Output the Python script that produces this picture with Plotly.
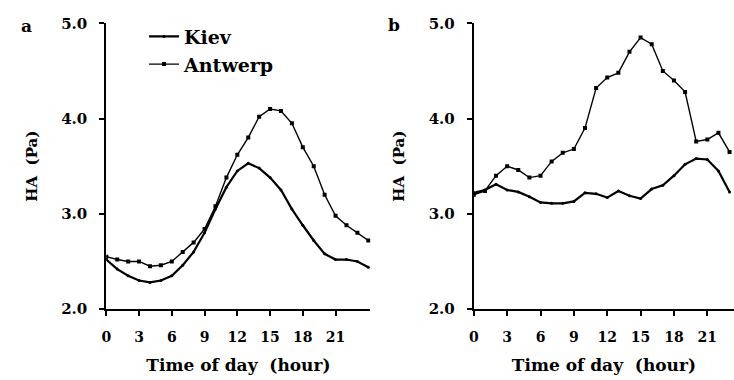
import plotly.graph_objects as go

# Hourly humidity amplitude (Pa), hours 0..24
hours_a = list(range(25))
kiev_a = [2.52, 2.42, 2.35, 2.30, 2.28, 2.30, 2.35, 2.46, 2.60, 2.80, 3.05, 3.28, 3.45,
          3.53, 3.48, 3.38, 3.25, 3.05, 2.88, 2.72, 2.58, 2.52, 2.52, 2.50, 2.44]
antwerp_a = [2.55, 2.52, 2.50, 2.50, 2.45, 2.46, 2.50, 2.60, 2.70, 2.84, 3.08, 3.38, 3.62,
             3.80, 4.02, 4.10, 4.08, 3.95, 3.70, 3.50, 3.20, 2.98, 2.88, 2.80, 2.72]

hours_b = list(range(24))
kiev_b = [3.22, 3.25, 3.31, 3.25, 3.23, 3.18, 3.12, 3.11, 3.11, 3.13, 3.22, 3.21, 3.17,
          3.24, 3.19, 3.16, 3.26, 3.30, 3.40, 3.52, 3.58, 3.57, 3.45, 3.23]
antwerp_b = [3.20, 3.24, 3.40, 3.50, 3.46, 3.38, 3.40, 3.55, 3.64, 3.68, 3.90, 4.32, 4.43,
             4.48, 4.70, 4.85, 4.78, 4.50, 4.40, 4.28, 3.76, 3.78, 3.85, 3.65]

x_ticks = [0, 3, 6, 9, 12, 15, 18, 21]
y_ticks = [2.0, 3.0, 4.0, 5.0]
y_ticklabels = ["2.0", "3.0", "4.0", "5.0"]

W, H = 734, 380
FONT = "DejaVu Serif"

fig = go.Figure()

kiev_style = dict(mode="lines+markers", line=dict(color="black", width=2.2),
                  marker=dict(color="black", size=3, symbol="circle"))
antwerp_style = dict(mode="lines+markers", line=dict(color="black", width=1.4),
                     marker=dict(color="black", size=4, symbol="square"))

fig.add_trace(go.Scatter(x=hours_a, y=kiev_a, name="Kiev", xaxis="x", yaxis="y",
                         **kiev_style))
fig.add_trace(go.Scatter(x=hours_a, y=antwerp_a, name="Antwerp", xaxis="x", yaxis="y",
                         **antwerp_style))
fig.add_trace(go.Scatter(x=hours_b, y=kiev_b, name="Kiev", xaxis="x2", yaxis="y2",
                         showlegend=False, **kiev_style))
fig.add_trace(go.Scatter(x=hours_b, y=antwerp_b, name="Antwerp", xaxis="x2", yaxis="y2",
                         showlegend=False, **antwerp_style))

y_dom = [(H - 315) / H, (H - 15) / H]

xaxis_common = dict(
    tickmode="array", tickvals=x_ticks, ticktext=[str(t) for t in x_ticks],
    ticks="outside", ticklen=5, tickwidth=2, tickcolor="black",
    showline=True, linecolor="black", linewidth=2, showgrid=False, zeroline=False,
    tickfont=dict(family=FONT, size=14, color="black", weight="bold"),
    ticklabelstandoff=9,
    title=dict(text="Time of day  (hour)",
               font=dict(family=FONT, size=17, color="black", weight="bold"),
               standoff=15),
)
yaxis_common = dict(
    range=[2.0, 5.0], tickmode="array", tickvals=y_ticks, ticktext=y_ticklabels,
    ticks="outside", ticklen=5, tickwidth=2, tickcolor="black",
    showline=True, linecolor="black", linewidth=2, showgrid=False, zeroline=False,
    tickfont=dict(family=FONT, size=15, color="black", weight="bold"),
    ticklabelstandoff=9,
    title=dict(text="HA  (Pa)",
               font=dict(family=FONT, size=15, color="black", weight="bold"),
               standoff=20),
)

fig.update_layout(
    width=W, height=H,
    margin=dict(l=0, r=0, t=0, b=0),
    paper_bgcolor="white", plot_bgcolor="white",
    xaxis=dict(domain=[102 / W, 368 / W], range=[0, 24.2], anchor="y", **xaxis_common),
    yaxis=dict(domain=y_dom, anchor="x", **yaxis_common),
    xaxis2=dict(domain=[472 / W, 1.0], range=[0, 23.4], anchor="y2", **xaxis_common),
    yaxis2=dict(domain=y_dom, anchor="x2", **yaxis_common),
    legend=dict(x=140 / W, y=1 - 9 / H, xanchor="left", yanchor="top",
                bgcolor="rgba(0,0,0,0)", tracegroupgap=0, itemwidth=30,
                font=dict(family=FONT, size=19, color="black", weight="bold")),
    showlegend=True,
)

for label, px, py in [("a", 22, 18), ("b", 392, 17)]:
    fig.add_annotation(text=label, x=px / W, y=1 - py / H, xref="paper", yref="paper",
                       showarrow=False, xanchor="center", yanchor="middle",
                       font=dict(family=FONT, size=17, color="black", weight="bold"))

fig.write_html("out.html")
